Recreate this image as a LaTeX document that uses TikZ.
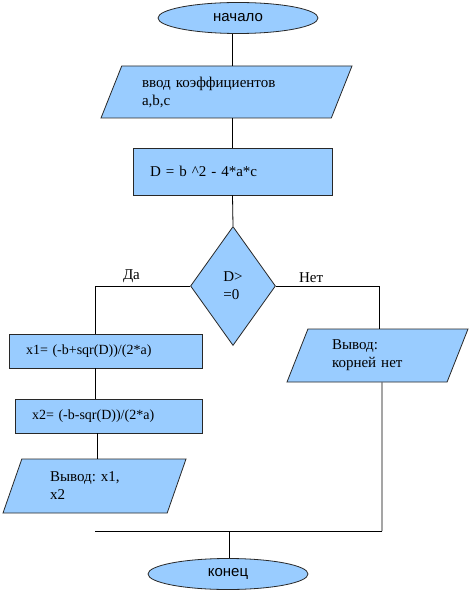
\documentclass[tikz,border=0pt]{standalone}
\usepackage{fontspec}
\setmainfont{Liberation Serif}
\newfontfamily\arialfont{Liberation Sans}
\usepackage{tikz}
\usetikzlibrary{shapes,shapes.geometric,positioning}
\definecolor{boxblue}{RGB}{153,204,255}
\definecolor{edgegray}{RGB}{40,40,40}
\frenchspacing

\begin{document}
\begin{tikzpicture}[x=1pt,y=1pt]
            \tikzstyle{every node} = [font=\fontsize{15}{18}\selectfont]
            \tikzstyle{base} = [draw=edgegray, fill=boxblue, line width=0.8pt, inner sep=0pt]
            \tikzstyle{term} = [base, ellipse, minimum width=160pt, minimum height=31pt, font=\arialfont\fontsize{15}{18}\selectfont]
            \tikzstyle{proc} = [base, rectangle, align=left]
            \tikzstyle{formula} = [proc, font=\fontsize{14}{17}\selectfont]
            \tikzstyle{io} = [base, trapezium, trapezium left angle=56, trapezium right angle=124, trapezium stretches body, align=left]
            \tikzstyle{cond} = [base, diamond, minimum width=85pt, minimum height=119pt, align=left]
            \tikzstyle{line} = [draw=black, line width=0.8pt]
            \useasboundingbox (0,0) rectangle (474,-593);

            \node[term](start) at (238,-18){начало};
            \node[io, minimum width=251pt, minimum height=52pt, text width=169pt](in) at (226.5,-92){ввод коэффициентов\\a,b,c};
            \node[proc, minimum width=199pt, minimum height=47pt, text width=165pt](calc) at (232.5,-171.5){D = b \^{}2 - 4*a*c};
            \node[cond](test) at (233,-286){D>\\=0};
            \node[formula, minimum width=193pt, minimum height=34pt, text width=159pt](xone) at (105.5,-351){x1= (-b+sqr(D))/(2*a)};
            \node[formula, minimum width=187pt, minimum height=34pt, text width=153pt](xtwo) at (108.5,-416){x2= (-b-sqr(D))/(2*a)};
            \node[io, minimum width=183pt, minimum height=54pt, text width=89pt](outroots) at (94.5,-486){Вывод: x1,\\x2};
            \node[io, minimum width=181pt, minimum height=53pt, text width=91pt](outnone) at (377.5,-355.5){Вывод:\\корней нет};
            \node[term](stop) at (228,-574){конец};

            \coordinate (joinL) at (95,-531);
            \coordinate (joinR) at (382,-531);
            \coordinate (joinM) at (229,-531);

            \path[line] (calc.north |- start.south) -- (calc.north |- in.north);
            \path[line] (calc.north |- in.south) -- (calc.north);
            \path[line] (calc.south) -- (test.north);
            \path[line] (test.west) -| node[pos=0.31, above, inner sep=3pt]{Да} ([xshift=-10pt]xone.north);
            \path[line] (test.east) -| node[pos=0.17, above, inner sep=3pt]{Нет} ([xshift=2pt]outnone.north);
            \path[line] ([xshift=-10pt]xone.south) -- ([xshift=-10pt]xone.south |- xtwo.north);
            \path[line] ([xshift=-11pt]xtwo.south) -- ([xshift=-11pt]xtwo.south |- outroots.north);
            \path[line] ([xshift=4.5pt]outnone.south) -- (joinR);
            \path[line] (joinL) -- (joinR);
            \path[line] (joinM) -- (joinM |- stop.north);
      \end{tikzpicture}
\end{document}
